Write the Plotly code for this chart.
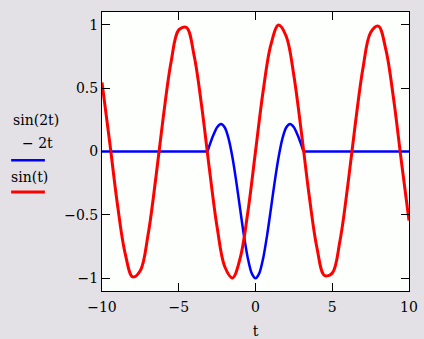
import plotly.graph_objects as go

# sin(t) samples
t_red = [-10, -9.5, -9, -8.5, -8, -7.5, -7, -6.5, -6, -5.5, -5, -4.5, -4, -3.5, -3,
         -2.5, -2, -1.5, -1, -0.5, 0, 0.5, 1, 1.5, 2, 2.5, 3, 3.5, 4, 4.5, 5, 5.5,
         6, 6.5, 7, 7.5, 8, 8.5, 9, 9.5, 10]
y_red = [0.544, 0.075, -0.412, -0.799, -0.989, -0.938, -0.657, -0.215, 0.279, 0.706,
         0.959, 0.978, 0.757, 0.351, -0.141, -0.598, -0.909, -0.997, -0.841, -0.479,
         0.0, 0.479, 0.841, 0.997, 0.909, 0.598, 0.141, -0.351, -0.757, -0.978,
         -0.959, -0.706, -0.279, 0.215, 0.657, 0.938, 0.989, 0.799, 0.412, -0.075, -0.544]

# sin(2t)/(-2t) samples (zero outside the central window)
t_blue = [-10, -3.6, -3.3, -3.14, -3, -2.75, -2.5, -2.25, -2, -1.75, -1.5, -1.25, -1, -0.75, -0.5,
          -0.25, 0, 0.25, 0.5, 0.75, 1, 1.25, 1.5, 1.75, 2, 2.25, 2.5, 2.75, 3, 3.14, 3.3, 3.6, 10]
y_blue = [0, 0, 0, 0, 0.047, 0.128, 0.192, 0.217, 0.189, 0.100, -0.047, -0.239, -0.455,
          -0.665, -0.841, -0.959, -1.0, -0.959, -0.841, -0.665, -0.455, -0.239, -0.047,
          0.100, 0.189, 0.217, 0.192, 0.128, 0.047, 0, 0, 0, 0]

x_ticks = [-10, -5, 0, 5, 10]
x_labels = ["\u221210", "\u22125", "0", "5", "10"]
y_ticks = [-1, -0.5, 0, 0.5, 1]
y_labels = ["\u22121", "\u22120.5", "0", "0.5", "1"]

FONT = "DejaVu Serif"

fig = go.Figure()
fig.add_trace(go.Scatter(x=t_blue, y=y_blue, mode="lines",
                         line=dict(color="#0000ff", width=2.5, shape="spline", smoothing=0.8),
                         showlegend=False))
fig.add_trace(go.Scatter(x=t_red, y=y_red, mode="lines",
                         line=dict(color="#ff0000", width=3, shape="spline", smoothing=1),
                         showlegend=False))

axis_common = dict(showline=True, linecolor="black", linewidth=1, mirror="ticks",
                   ticks="inside", ticklen=8, tickcolor="black", tickwidth=1,
                   showgrid=False, zeroline=False, automargin=False,
                   tickfont=dict(family=FONT, size=14, color="black"))

fig.update_xaxes(range=[-10, 10], tickvals=x_ticks, ticktext=x_labels, ticklabelstandoff=3,
                 title=dict(text="t", font=dict(family=FONT, size=14, color="black"), standoff=12),
                 **axis_common)
fig.update_yaxes(range=[-1.1, 1.1], tickvals=y_ticks, ticktext=y_labels, **axis_common)

# legend-like labels on the left
lab = dict(xref="paper", yref="paper", showarrow=False,
           font=dict(family=FONT, size=14, color="black"), xanchor="center", yanchor="middle")
fig.add_annotation(text="sin(2t)", x=-0.215, y=0.612, **lab)
fig.add_annotation(text="\u2212 2t", x=-0.21, y=0.53, **lab)
fig.add_annotation(text="sin(t)", x=-0.235, y=0.408, **lab)
fig.add_shape(type="line", xref="paper", yref="paper", x0=-0.296, x1=-0.186, y0=0.469, y1=0.469,
              line=dict(color="#0000ff", width=2.5))
fig.add_shape(type="line", xref="paper", yref="paper", x0=-0.296, x1=-0.186, y0=0.355, y1=0.355,
              line=dict(color="#ff0000", width=3))

fig.update_layout(width=424, height=339,
                  font=dict(family=FONT, size=14, color="black"),
                  margin=dict(l=102, r=15, t=12, b=48),
                  paper_bgcolor="#e3e1e5", plot_bgcolor="#fdfffd")

fig.write_html("out.html", config={"displayModeBar": False},
               post_script="document.body.style.margin='0';")
